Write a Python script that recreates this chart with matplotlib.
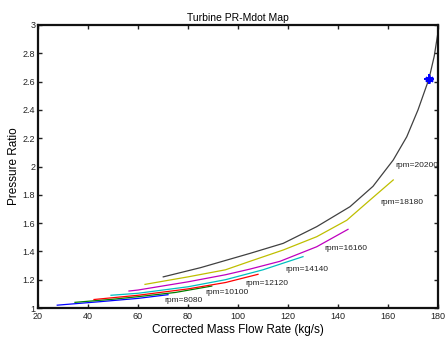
import matplotlib
matplotlib.use('Agg')
import matplotlib.pyplot as plt

plt.rcParams['font.family'] = ['Liberation Sans', 'DejaVu Sans']

# speed lines (mass flow kg/s, pressure ratio)
rpm_labels = ['rpm=8080', 'rpm=10100', 'rpm=12120', 'rpm=14140',
              'rpm=16160', 'rpm=18180', 'rpm=20200']

mdot_8080 = [27.7, 45, 60, 72]
pr_8080 = [1.02, 1.045, 1.068, 1.094]

mdot_10100 = [34.8, 50, 60, 75, 89.5]
pr_10100 = [1.04, 1.062, 1.08, 1.11, 1.155]

mdot_12120 = [42.4, 60, 80, 95, 108]
pr_12120 = [1.06, 1.09, 1.135, 1.18, 1.238]

mdot_14140 = [49.2, 60, 80, 95, 110, 126]
pr_14140 = [1.09, 1.104, 1.15, 1.2, 1.27, 1.363]

mdot_16160 = [56.4, 60, 80, 95, 104.8, 116.8, 131.5, 144]
pr_16160 = [1.12, 1.127, 1.185, 1.235, 1.275, 1.33, 1.433, 1.556]

mdot_18180 = [62.8, 80, 95, 104.8, 118.1, 131.5, 143.5, 152.8, 162.1]
pr_18180 = [1.167, 1.22, 1.27, 1.33, 1.41, 1.504, 1.62, 1.763, 1.905]

mdot_20200 = [70.1, 85, 104.8, 118.1, 131.5, 144.8, 154, 162.1, 167.5,
              172, 176.4, 178.5, 180.1, 180.5]
pr_20200 = [1.22, 1.285, 1.386, 1.457, 1.575, 1.716, 1.86, 2.046, 2.21,
            2.4, 2.62, 2.78, 2.96, 3.0]

mdot_lines = [mdot_8080, mdot_10100, mdot_12120, mdot_14140, mdot_16160, mdot_18180, mdot_20200]
pr_lines = [pr_8080, pr_10100, pr_12120, pr_14140, pr_16160, pr_18180, pr_20200]
line_colors = ['#0000ff', '#008000', '#ff0000', '#00bfbf', '#bf00bf', '#bfbf00', '#404040']

# where each rpm tag sits
label_x = [70.4, 86.8, 103, 119.1, 134.4, 156.8, 163.1]
label_y = [1.052, 1.108, 1.175, 1.273, 1.42, 1.744, 2.01]

# operating point
op_mdot = [176.4]
op_pr = [2.62]

x_ticks = [20, 40, 60, 80, 100, 120, 140, 160, 180]
y_ticks = [1, 1.2, 1.4, 1.6, 1.8, 2, 2.2, 2.4, 2.6, 2.8, 3]

fig = plt.figure(figsize=(4.45, 3.38), dpi=100)
ax = fig.add_axes([38 / 445, 30 / 338, 400 / 445, 283 / 338])

for xs, ys, c in zip(mdot_lines, pr_lines, line_colors):
    ax.plot(xs, ys, color=c, linewidth=0.9)

for lab, lx, ly in zip(rpm_labels, label_x, label_y):
    ax.text(lx, ly, lab, fontsize=6, va='center', ha='left', color='#222222')

ax.plot(op_mdot, op_pr, linestyle='none', marker=(6, 2, 0), markersize=6,
        markeredgewidth=1.3, color='#0000ff')
ax.plot(op_mdot, op_pr, linestyle='none', marker='+', markersize=7,
        markeredgewidth=1.4, color='#0000ff')

ax.set_xlim(20, 180)
ax.set_ylim(1, 3)
ax.set_xticks(x_ticks)
ax.set_yticks(y_ticks)
ax.set_xticklabels([str(t) for t in x_ticks])
ax.set_yticklabels(['1', '1.2', '1.4', '1.6', '1.8', '2', '2.2', '2.4', '2.6', '2.8', '3'])
ax.tick_params(direction='in', length=3, width=1, labelsize=6.5, top=True, right=True,
               pad=2, colors='#222222')
ax.tick_params(axis='x', pad=3)
for sp in ax.spines.values():
    sp.set_linewidth(1.6)
    sp.set_color('#111111')

ax.set_title('Turbine PR-Mdot Map', fontsize=7.5, pad=3)
ax.set_xlabel('Corrected Mass Flow Rate (kg/s)', fontsize=8.5, labelpad=2)
ax.set_ylabel('Pressure Ratio', fontsize=8.5, labelpad=2)

fig.savefig('out.png', dpi=100)
